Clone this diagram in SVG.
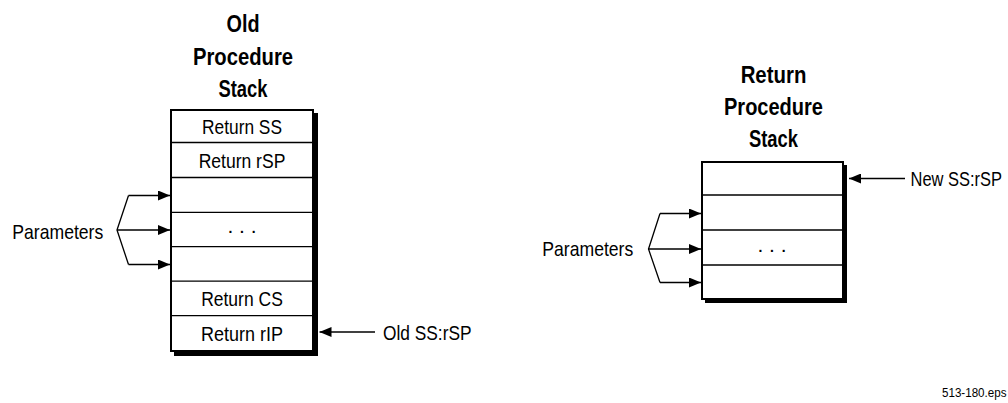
<svg xmlns="http://www.w3.org/2000/svg" width="1008" height="403" viewBox="0 0 1008 403">
<style>
.t{font-family:"Liberation Sans",Arial,sans-serif;font-size:21px;fill:#000}
.h{font-family:"Liberation Sans",Arial,sans-serif;font-size:23.5px;font-weight:bold;fill:#000;text-anchor:middle}
.c{text-anchor:middle}
.box{fill:#fff;stroke:#000;stroke-width:2}
.sh{fill:#000}
.sep{stroke:#000;stroke-width:1.3}
.ln{fill:none;stroke:#000;stroke-width:1.3}
.ar{fill:none;stroke:#000;stroke-width:1.3;marker-end:url(#ah)}
</style>
<defs>
<marker id="ah" viewBox="0 0 12 10" refX="12" refY="5" markerWidth="12" markerHeight="10" markerUnits="userSpaceOnUse" orient="auto">
<path d="M0,0 L12,5 L0,10 z" fill="#000"/>
</marker>
</defs>
<rect width="1008" height="403" fill="#fff"/>

<g id="old-stack">
<text class="h" x="243" y="32.3" textLength="33" lengthAdjust="spacingAndGlyphs">Old</text>
<text class="h" x="243" y="64.5" textLength="100" lengthAdjust="spacingAndGlyphs">Procedure</text>
<text class="h" x="243" y="96.7" textLength="49" lengthAdjust="spacingAndGlyphs">Stack</text>
<rect class="sh" x="174" y="113" width="144" height="243"/>
<rect class="box" x="171" y="110" width="142" height="241"/>
<line class="sep" x1="171" y1="142.5" x2="313" y2="142.5"/>
<line class="sep" x1="171" y1="177.5" x2="313" y2="177.5"/>
<line class="sep" x1="171" y1="212.3" x2="313" y2="212.3"/>
<line class="sep" x1="171" y1="246.7" x2="313" y2="246.7"/>
<line class="sep" x1="171" y1="281.2" x2="313" y2="281.2"/>
<line class="sep" x1="171" y1="315.7" x2="313" y2="315.7"/>
<text class="t c" x="242" y="133.5" textLength="80" lengthAdjust="spacingAndGlyphs">Return SS</text>
<text class="t c" x="242" y="168" textLength="86.7" lengthAdjust="spacingAndGlyphs">Return rSP</text>
<text class="t c" x="242" y="233">. . .</text>
<text class="t c" x="242" y="306.3" textLength="81.7" lengthAdjust="spacingAndGlyphs">Return CS</text>
<text class="t c" x="242" y="340.8" textLength="82" lengthAdjust="spacingAndGlyphs">Return rIP</text>
</g>

<g id="new-stack">
<text class="h" x="773.5" y="83.3" textLength="65.7" lengthAdjust="spacingAndGlyphs">Return</text>
<text class="h" x="773.5" y="115" textLength="99" lengthAdjust="spacingAndGlyphs">Procedure</text>
<text class="h" x="773.5" y="146.7" textLength="49" lengthAdjust="spacingAndGlyphs">Stack</text>
<rect class="sh" x="705" y="165" width="142" height="138"/>
<rect class="box" x="702" y="162" width="141" height="137"/>
<line class="sep" x1="702" y1="195" x2="843" y2="195"/>
<line class="sep" x1="702" y1="230" x2="843" y2="230"/>
<line class="sep" x1="702" y1="265" x2="843" y2="265"/>
<text class="t c" x="772" y="252">. . .</text>
</g>

<g id="labels">
<text class="t" x="12.3" y="238.5" textLength="91" lengthAdjust="spacingAndGlyphs">Parameters</text>
<text class="t" x="542.3" y="256.3" textLength="91" lengthAdjust="spacingAndGlyphs">Parameters</text>
<text class="t" x="383" y="340.3" textLength="88.5" lengthAdjust="spacingAndGlyphs">Old SS:rSP</text>
<text class="t" transform="translate(910.5,185.8) scale(0.785,1)" x="0" y="0">New SS:rSP</text>
<text class="t" x="942" y="397" style="font-size:12px" textLength="64.5" lengthAdjust="spacingAndGlyphs">513-180.eps</text>
</g>

<g id="connectors">
<path class="ln" d="M128.5 195.5 L117 230 L128.5 264.5"/>
<line class="ar" x1="128.5" y1="195.5" x2="170" y2="195.5"/>
<line class="ar" x1="117" y1="230" x2="170" y2="230"/>
<line class="ar" x1="128.5" y1="264.5" x2="170" y2="264.5"/>
<path class="ln" d="M660 213.5 L648.5 249 L660 282.5"/>
<line class="ar" x1="660" y1="213.5" x2="701" y2="213.5"/>
<line class="ar" x1="648.5" y1="249" x2="701" y2="249"/>
<line class="ar" x1="660" y1="282.5" x2="701" y2="282.5"/>
<line class="ar" x1="375" y1="332" x2="319.5" y2="332"/>
<line class="ar" x1="905" y1="178.5" x2="849" y2="178.5"/>
</g>
</svg>
